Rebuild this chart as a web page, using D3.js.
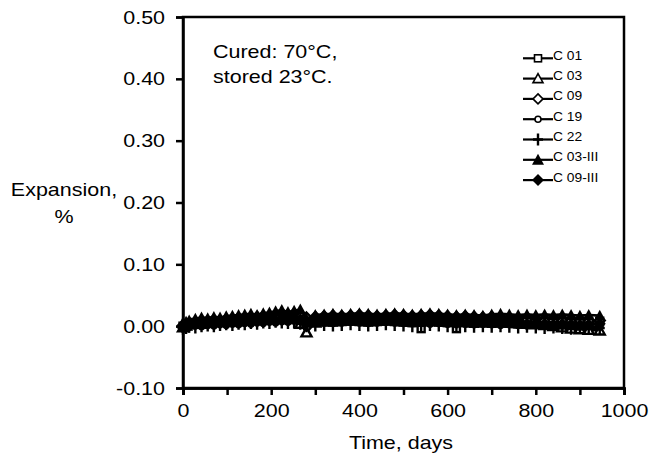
<!DOCTYPE html>
<html><head><meta charset="utf-8">
<script src="https://cdn.jsdelivr.net/npm/d3@7"></script>
<style>body{margin:0;background:#fff}svg{display:block}text{font-family:"Liberation Sans",Arial,sans-serif;fill:#000}</style>
</head><body><svg id="c" width="649" height="457"></svg>
<script>
const times = [0,7,14,28,42,56,70,84,98,112,126,140,154,168,182,196,210,224,238,252,266,280,300,320,340,360,380,400,420,440,460,480,500,520,540,560,580,600,620,640,660,680,700,720,740,760,780,800,820,840,860,880,900,920,945];
const seriesNames = ["C 01","C 03","C 09","C 19","C 22","C 03-III","C 09-III"];
const c01 = [0.000,0.002,0.004,0.006,0.005,0.007,0.006,0.008,0.007,0.009,0.010,0.009,0.011,0.010,0.012,0.011,0.013,0.012,0.011,0.013,0.012,0.008,0.010,0.011,0.012,0.011,0.012,0.013,0.012,0.011,0.012,0.013,0.012,0.011,-0.004,0.013,0.012,0.011,-0.004,0.011,0.010,0.011,0.012,0.011,0.010,0.009,0.010,0.009,0.008,0.009,0.008,0.007,0.008,0.007,0.008];
const c03 = [-0.002,0.001,0.003,0.005,0.004,0.006,0.008,0.007,0.009,0.010,0.008,0.011,0.012,0.013,0.011,0.014,0.015,0.016,0.014,0.015,0.004,-0.010,0.006,0.008,0.009,0.010,0.009,0.011,0.010,0.009,0.010,0.011,0.010,0.009,0.010,0.011,0.010,0.009,0.008,0.009,0.010,0.009,0.008,0.007,0.006,0.005,0.004,0.003,0.002,0.000,-0.002,-0.004,-0.005,-0.006,-0.007];
const c09 = [0.001,0.003,0.005,0.007,0.009,0.008,0.010,0.009,0.011,0.012,0.013,0.012,0.014,0.015,0.016,0.017,0.018,0.019,0.018,0.020,0.019,0.014,0.015,0.016,0.017,0.016,0.017,0.018,0.017,0.016,0.017,0.018,0.017,0.016,0.017,0.018,0.017,0.016,0.015,0.016,0.015,0.014,0.015,0.014,0.013,0.012,0.011,0.010,0.009,0.010,0.009,0.008,0.009,0.008,0.009];
const c19 = [-0.002,0.000,-0.001,0.001,0.000,0.002,0.001,0.003,0.002,0.004,0.003,0.005,0.004,0.006,0.005,0.007,0.006,0.008,0.007,0.009,0.008,0.004,0.005,0.006,0.005,0.006,0.007,0.006,0.005,0.006,0.007,0.006,0.005,0.006,0.005,0.004,0.005,0.004,0.003,0.004,0.003,0.004,0.003,0.002,0.003,0.002,0.001,0.002,0.001,0.000,0.001,0.000,-0.001,0.000,-0.001];
const c22 = [-0.004,-0.003,-0.001,-0.002,0.000,0.001,0.000,0.002,0.003,0.002,0.004,0.003,0.005,0.004,0.006,0.005,0.007,0.006,0.005,0.006,0.004,0.000,0.001,0.002,0.001,0.002,0.003,0.002,0.001,0.002,0.003,0.002,0.001,0.000,0.001,0.002,0.001,0.000,0.001,0.000,-0.001,0.000,-0.001,0.000,-0.001,-0.002,-0.001,-0.002,-0.003,-0.002,-0.003,-0.004,-0.003,-0.004,-0.003];
const c03iii = [0.006,0.007,0.009,0.012,0.014,0.013,0.015,0.014,0.016,0.017,0.018,0.019,0.020,0.018,0.021,0.022,0.024,0.026,0.023,0.025,0.027,0.012,0.018,0.019,0.020,0.019,0.020,0.021,0.020,0.019,0.020,0.021,0.020,0.019,0.020,0.021,0.020,0.019,0.018,0.019,0.018,0.017,0.019,0.020,0.019,0.018,0.019,0.018,0.019,0.018,0.019,0.018,0.017,0.018,0.017];
const c09iii = [-0.003,0.000,0.002,0.004,0.003,0.005,0.004,0.006,0.005,0.007,0.006,0.008,0.007,0.009,0.008,0.010,0.009,0.011,0.010,0.012,0.011,0.007,0.008,0.009,0.008,0.009,0.010,0.009,0.008,0.009,0.010,0.009,0.008,0.009,0.008,0.009,0.008,0.007,0.008,0.007,0.006,0.007,0.006,0.007,0.006,0.005,0.004,0.005,0.004,0.003,0.004,0.003,0.002,0.003,0.004];
const seriesValues = [c01,c03,c09,c19,c22,c03iii,c09iii];
const xTicks = [0,200,400,600,800,1000];
const xMinorTicks = [100,300,500,700,900];
const yTicks = [-0.10,0.00,0.10,0.20,0.30,0.40,0.50];
const annotation = ["Cured: 70°C,","stored 23°C."];

const FONT = 19, STRETCH = 1.13;
const svg = d3.select("#c");
const L=183, R=624, T=17, B=388;
const x = d3.scaleLinear().domain([0,1000]).range([L,R]);
const y = d3.scaleLinear().domain([-0.10,0.50]).range([B,T]);

function stretch(sel, f){
  sel.each(function(){
    const w = this.getComputedTextLength();
    if(w>0) d3.select(this).attr("textLength", w*f).attr("lengthAdjust","spacingAndGlyphs");
  });
}

svg.append("rect").attr("x",L).attr("y",T).attr("width",R-L).attr("height",B-T)
  .attr("fill","none").attr("stroke","#000").attr("stroke-width",2.5);

const xa = svg.append("g").attr("transform",`translate(0,${B})`)
  .call(d3.axisBottom(x).tickValues(xTicks).tickFormat(d3.format("d")).tickSize(7).tickPadding(9));
const xm = svg.append("g").attr("transform",`translate(0,${B})`)
  .call(d3.axisBottom(x).tickValues(xMinorTicks).tickFormat("").tickSize(7));
const ya = svg.append("g").attr("transform",`translate(${L},0)`)
  .call(d3.axisLeft(y).tickValues(yTicks).tickFormat(d3.format(".2f")).tickSize(7).tickPadding(11));
[xa,xm,ya].forEach(g=>{
  g.select(".domain").attr("stroke-width",2.5);
  g.selectAll(".tick line").attr("stroke-width",2.5);
  g.selectAll("text").attr("font-size",FONT).style("font-family","'Liberation Sans',Arial,sans-serif").attr("fill","#000");
});
ya.selectAll(".tick text").text(d=>d<0?"-"+Math.abs(d).toFixed(2):d.toFixed(2));
xa.selectAll(".tick text").attr("dy","0.71em");
stretch(xa.selectAll(".tick text"), STRETCH);
stretch(ya.selectAll(".tick text"), STRETCH);

stretch(svg.append("text").attr("x",401).attr("y",449).attr("text-anchor","middle").attr("font-size",FONT).text("Time, days"), STRETCH);
stretch(svg.append("text").attr("x",64).attr("y",196).attr("text-anchor","middle").attr("font-size",FONT).text("Expansion,"), STRETCH);
stretch(svg.append("text").attr("x",64).attr("y",223).attr("text-anchor","middle").attr("font-size",FONT).text("%"), STRETCH);
annotation.forEach((t,i)=>stretch(svg.append("text").attr("x",213).attr("y",58+i*25).attr("font-size",FONT).text(t), STRETCH));

function drawMarker(g, k, cx, cy, w){
  if(k===0) g.append("rect").attr("x",cx-3.5).attr("y",cy-3.5).attr("width",7).attr("height",7).attr("fill","#fff").attr("stroke","#000").attr("stroke-width",w);
  else if(k===1) g.append("path").attr("d",`M${cx},${cy-5}L${cx+5},${cy+4}L${cx-5},${cy+4}Z`).attr("fill","#fff").attr("stroke","#000").attr("stroke-width",w);
  else if(k===2) g.append("path").attr("d",`M${cx},${cy-5}L${cx+5},${cy}L${cx},${cy+5}L${cx-5},${cy}Z`).attr("fill","#fff").attr("stroke","#000").attr("stroke-width",w);
  else if(k===3) g.append("circle").attr("cx",cx).attr("cy",cy).attr("r",3).attr("fill","#fff").attr("stroke","#000").attr("stroke-width",w);
  else if(k===4) g.append("path").attr("d",`M${cx},${cy-6}V${cy+6}M${cx-5},${cy}H${cx+5}`).attr("stroke","#000").attr("stroke-width",2.4);
  else if(k===5) g.append("path").attr("d",`M${cx},${cy-6}L${cx+6},${cy+5}L${cx-6},${cy+5}Z`).attr("fill","#000");
  else g.append("path").attr("d",`M${cx},${cy-6}L${cx+6},${cy}L${cx},${cy+6}L${cx-6},${cy}Z`).attr("fill","#000");
}

const line = d3.line().x(d=>x(d[0])).y(d=>y(d[1]));
seriesValues.forEach((vals,k)=>{
  const pts = times.map((t,i)=>[t,vals[i]]).filter(d=>d[1]!==undefined);
  const g = svg.append("g");
  g.append("path").datum(pts).attr("d",line).attr("fill","none").attr("stroke","#000").attr("stroke-width",2.6);
  pts.forEach(d=>drawMarker(g,k,x(d[0]),y(d[1]),2.4));
});

seriesNames.forEach((n,i)=>{
  const ly = 58.3+i*20.3;
  const g = svg.append("g");
  g.append("line").attr("x1",523).attr("x2",553).attr("y1",ly).attr("y2",ly).attr("stroke","#000").attr("stroke-width",2.2);
  drawMarker(g,i,538,ly,1.6);
  stretch(g.append("text").attr("x",553).attr("y",ly+1.5).attr("font-size",12).text(n), 1.15);
});
</script></body></html>
